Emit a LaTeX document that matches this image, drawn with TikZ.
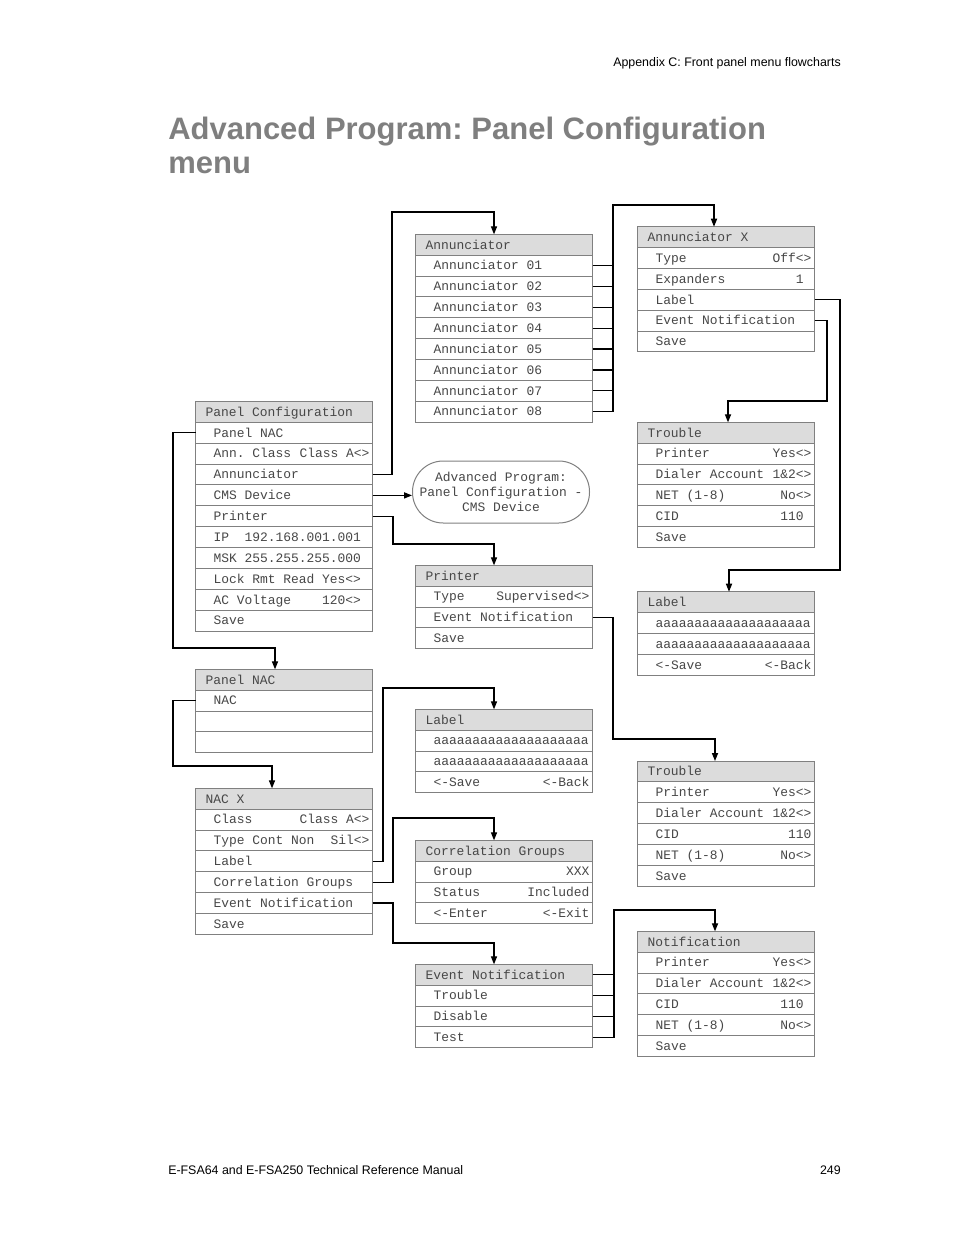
\documentclass[tikz,border=0pt]{standalone}
\usepackage{fontspec}
\setmainfont{Liberation Sans}
\setmonofont{Liberation Mono}
\frenchspacing
\usetikzlibrary{arrows.meta}
\definecolor{cline}{HTML}{808080}
\definecolor{chead}{HTML}{DCDCDC}
\definecolor{ctext}{HTML}{474747}
\definecolor{ctitle}{HTML}{7F7F7F}
\tikzset{
  hdr/.style={draw=cline, fill=chead, line width=0.75pt, anchor=north west, inner sep=0pt, outer sep=0pt,
    minimum height=15.65pt, text height=8pt, text depth=1.6pt, text=ctext, font=\ttfamily\fontsize{9.7}{11.25}\selectfont},
  cell/.style={hdr, fill=white},
  oval/.style={draw=cline, fill=white, line width=0.75pt, rounded corners=23pt, minimum width=132.75pt,
    minimum height=46.5pt, inner sep=0pt, align=center, text=ctext, font=\ttfamily\fontsize{9.7}{11.25}\selectfont},
  link/.style={draw=black, line width=0.9pt},
  arr/.style={link, -{Triangle[length=6pt, width=4.6pt]}},
  ttl/.style={font=\bfseries\fontsize{23.25}{28}\selectfont, text=ctitle, inner sep=0pt},
  pagetxt/.style={font=\fontsize{9.3}{11}\selectfont, inner sep=0pt},
}
% one menu: header node #1-0, then rows #1-1, #1-2, ...
\newcommand{\menubox}[5]{%
  \node[hdr] (#1-0) at (#2,#3) {\hbox to 132.75pt{\hspace*{7.5pt}#4\hfill}};
  \foreach \lft/\rgt [count=\i] in {#5}{
    \node[cell] (#1-\i) at (#2,{#3+\i*20.87}) {\hbox to 132.75pt{\hspace*{13.5pt}\lft\hfill\rgt\hspace*{2.25pt}}};
  }
}

\begin{document}
\begin{tikzpicture}[x=0.75pt, y=-0.75pt]
  \useasboundingbox (0,0) rectangle (954,1235);
  % page header, title and footer
  \node[pagetxt, anchor=base east] (runhead) at (841,66.5) {Appendix C: Front panel menu flowcharts};
  \node[ttl, anchor=base west] (ttl1) at (168,139) {Advanced Program: Panel Configuration};
  \node[ttl, anchor=base west] (ttl2) at (168,173) {menu};
  \node[pagetxt, anchor=base west] (foot) at (168,1174.5) {E-FSA64 and E-FSA250 Technical Reference Manual};
  \node[pagetxt, anchor=base east] (pgno) at (841,1174.5) {249};

  % left column
  \menubox{pc}{195.5}{401.5}{Panel Configuration}{Panel NAC/, Ann. Class/Class A<>, Annunciator/, CMS Device/,
    Printer/, IP~~192.168.001.001/, MSK 255.255.255.000/, Lock Rmt Read Yes<>/, AC Voltage~~~~120<>/, Save/}
  \menubox{nac}{195.5}{669.3}{Panel NAC}{NAC/, {}/{}, {}/{}}
  \menubox{nacx}{195.5}{788.3}{NAC X}{Class/Class A<>, Type Cont Non/Sil<>, Label/, Correlation Groups/,
    Event Notification/, Save/}

  % middle column
  \menubox{ann}{415.5}{234.3}{Annunciator}{Annunciator 01/, Annunciator 02/, Annunciator 03/, Annunciator 04/,
    Annunciator 05/, Annunciator 06/, Annunciator 07/, Annunciator 08/}
  \node[oval] (cms) at (501,492) {Advanced Program:\\Panel Configuration -\\CMS Device};
  \menubox{prn}{415.5}{565.3}{Printer}{Type/Supervised<>, Event Notification/, Save/}
  \menubox{lblm}{415.5}{709.3}{Label}{aaaaaaaaaaaaaaaaaaaa/, aaaaaaaaaaaaaaaaaaaa/, <-Save/<-Back}
  \menubox{cg}{415.5}{840.3}{Correlation Groups}{Group/XXX, Status/Included, <-Enter/<-Exit}
  \menubox{evn}{415.5}{964.3}{Event Notification}{Trouble/, Disable/, Test/}

  % right column
  \menubox{annx}{637.5}{226.7}{Annunciator X}{Type/Off<>, Expanders/1~, Label/, Event Notification/, Save/}
  \menubox{trb1}{637.5}{422.3}{Trouble}{Printer/Yes<>, Dialer Account/1\&2<>, NET (1-8)/No<>, CID/110~, Save/}
  \menubox{lblr}{637.5}{591.7}{Label}{aaaaaaaaaaaaaaaaaaaa/, aaaaaaaaaaaaaaaaaaaa/, <-Save/<-Back}
  \menubox{trb2}{637.5}{761}{Trouble}{Printer/Yes<>, Dialer Account/1\&2<>, CID/110, NET (1-8)/No<>, Save/}
  \menubox{ntf}{637.5}{931.3}{Notification}{Printer/Yes<>, Dialer Account/1\&2<>, CID/110~, NET (1-8)/No<>, Save/}

  % connectors
  \draw[arr] (pc-3.east) -| (392,212) -| (ann-0.north -| 494,0);
  \draw[arr] (pc-4.east) -- (pc-4.east -| cms.west);
  \draw[arr] (pc-5.east) -| (393,544) -| (prn-0.north -| 494,0);
  \draw[arr] (pc-1.west) -| (173,648) -| (nac-0.north -| 275,0);
  \draw[arr] (nac-1.west) -| (173,766) -| (nacx-0.north -| 272,0);
  \draw[arr] (nacx-3.east) -| (383,688) -| (lblm-0.north -| 494,0);
  \draw[arr] (nacx-4.east) -| (393,818) -| (cg-0.north -| 494,0);
  \draw[arr] (nacx-5.east) -| (393,943) -| (evn-0.north -| 494,0);
  \foreach \i in {1,...,7}
    \draw[link] (ann-\i.east) -- (ann-\i.east -| 613,0);
  \draw[arr] (ann-8.east) -| (613,205) -| (annx-0.north -| 714,0);
  \draw[arr] (annx-3.east) -| (840,570) -| (lblr-0.north -| 729,0);
  \draw[arr] (annx-4.east) -| (827,401) -| (trb1-0.north -| 728,0);
  \draw[arr] (prn-2.east) -| (613,739) -| (trb2-0.north -| 715,0);
  \foreach \i in {0,1,2}
    \draw[link] (evn-\i.east) -- (evn-\i.east -| 614,0);
  \draw[arr] (evn-3.east) -| (614,910) -| (ntf-0.north -| 715,0);
\end{tikzpicture}
\end{document}
